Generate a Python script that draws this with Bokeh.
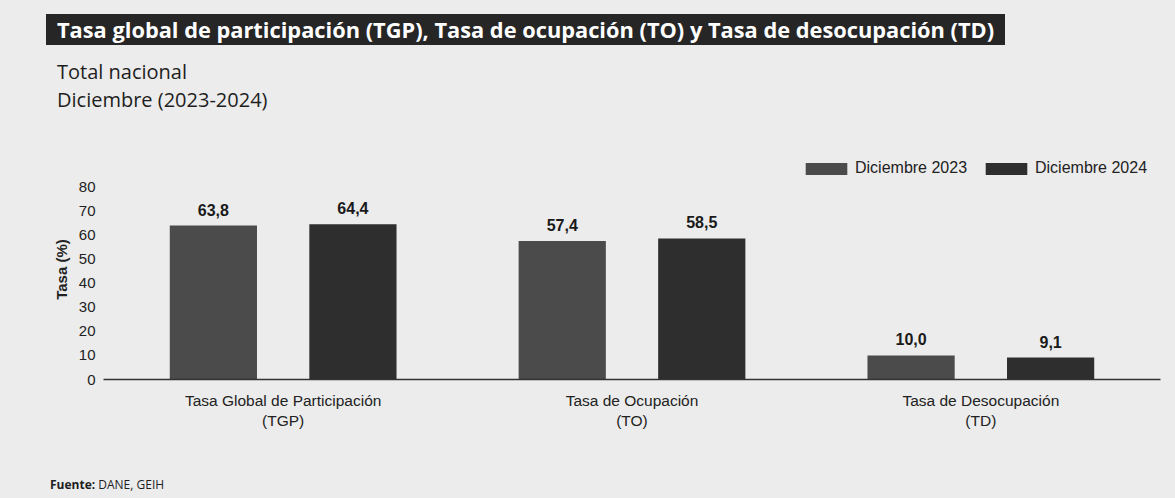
from bokeh.plotting import figure
from bokeh.models import (FactorRange, Range1d, Legend, LegendItem, FixedTicker,
                          ColumnDataSource, Div)
from bokeh.layouts import column
from bokeh.transform import dodge
from bokeh.embed import file_html
from bokeh.resources import INLINE
from bokeh.core.properties import value

# ---- data ----
categories = ["Tasa Global de Participación\n(TGP)",
              "Tasa de Ocupación\n(TO)",
              "Tasa de Desocupación\n(TD)"]
series_names = ["Diciembre 2023", "Diciembre 2024"]
dic_2023 = [63.8, 57.4, 10.0]
dic_2024 = [64.4, 58.5, 9.1]
y_ticks = [0, 10, 20, 30, 40, 50, 60, 70, 80]

title_text = "Tasa global de participación (TGP), Tasa de ocupación (TO) y Tasa de desocupación (TD)"
subtitle_1 = "Total nacional"
subtitle_2 = "Diciembre (2023-2024)"
y_label = "Tasa (%)"
source_bold = "Fuente:"
source_text = "DANE, GEIH"

# ---- styles ----
BG = "#ececec"
C2023 = "#4b4b4b"
C2024 = "#2e2e2e"
DARK = "#262626"
TXT = "#1e1e1e"
ARIAL = "Liberation Sans"
W = 1175

def fmt(v):
    return f"{v:.1f}".replace(".", ",")

src = ColumnDataSource(dict(
    cat=categories,
    v2023=dic_2023,
    v2024=dic_2024,
    t2023=[fmt(v) for v in dic_2023],
    t2024=[fmt(v) for v in dic_2024],
))

# ---- header ----
header_html = f"""
<div style="position:relative;width:{W}px;height:140px;background:{BG};font-family:'Open Sans';">
  <div style="position:absolute;left:46px;top:14px;width:959px;height:31px;padding-left:11px;
              box-sizing:border-box;background:{DARK};color:#ffffff;font-weight:bold;
              font-size:21.8px;line-height:31px;white-space:nowrap;overflow:hidden;">{title_text}</div>
  <div style="position:absolute;left:57px;top:59px;font-size:20px;line-height:26px;color:{TXT};
              white-space:nowrap;">{subtitle_1}</div>
  <div style="position:absolute;left:57px;top:87px;font-size:20px;line-height:26px;color:{TXT};
              white-space:nowrap;">{subtitle_2}</div>
</div>
"""
header = Div(text=header_html, width=W, height=140, margin=0,
             styles={"background-color": BG})

# ---- chart ----
p = figure(width=W, height=336,
           x_range=FactorRange(*categories, range_padding=0.015, range_padding_units="absolute"),
           y_range=Range1d(0, 91.2),
           output_backend="svg", toolbar_location=None,
           min_border_left=103, min_border_right=15,
           min_border_top=19, min_border_bottom=97, margin=0)
p.styles = {"background-color": BG}
p.background_fill_color = BG
p.border_fill_color = BG
p.outline_line_color = None
p.xgrid.grid_line_color = None
p.ygrid.grid_line_color = None

r1 = p.vbar(x=dodge("cat", -0.2, range=p.x_range), top="v2023", width=0.25,
            source=src, fill_color=C2023, line_color=None)
r2 = p.vbar(x=dodge("cat", 0.2, range=p.x_range), top="v2024", width=0.25,
            source=src, fill_color=C2024, line_color=None)

for xo, ycol, tcol in [(-0.2, "v2023", "t2023"), (0.2, "v2024", "t2024")]:
    p.text(x=dodge("cat", xo, range=p.x_range), y=ycol, text=tcol, source=src,
           text_align="center", text_baseline="bottom", y_offset=-10,
           text_font=value(ARIAL), text_font_style="bold",
           text_font_size="16px", text_color="#1a1a1a")

# axes
p.yaxis.ticker = FixedTicker(ticks=y_ticks)
p.yaxis.axis_line_color = None
p.yaxis.major_tick_line_color = None
p.yaxis.minor_tick_line_color = None
p.yaxis.major_tick_out = 0
p.yaxis.major_tick_in = 0
p.yaxis.major_label_standoff = 8
p.yaxis.major_label_text_font = ARIAL
p.yaxis.major_label_text_font_size = "15px"
p.yaxis.major_label_text_color = "#222222"
p.yaxis.axis_label = y_label
p.yaxis.axis_label_text_font = ARIAL
p.yaxis.axis_label_text_font_style = "bold"
p.yaxis.axis_label_text_font_size = "15px"
p.yaxis.axis_label_text_color = "#222222"
p.yaxis.axis_label_standoff = 6

p.xaxis.axis_line_color = "#333333"
p.xaxis.axis_line_width = 1.5
p.xaxis.major_tick_line_color = None
p.xaxis.minor_tick_line_color = None
p.xaxis.major_label_standoff = 6
p.xaxis.major_label_text_font = ARIAL
p.xaxis.major_label_text_font_size = "15.5px"
p.xaxis.major_label_text_color = "#222222"

# legend (inside the frame, top right)
legend = Legend(items=[LegendItem(label=series_names[0], renderers=[r1]),
                       LegendItem(label=series_names[1], renderers=[r2])],
                orientation="horizontal", location="top_right",
                glyph_width=52, glyph_height=15, label_standoff=3, spacing=-6,
                padding=0, margin=0, border_line_color=None,
                background_fill_alpha=0,
                label_text_font=ARIAL, label_text_font_size="16px",
                label_text_color="#222222", label_height=16, label_width=125)
p.add_layout(legend, "center")

# ---- footer ----
footer_html = f"""
<div style="position:relative;width:{W}px;height:22px;background:{BG};font-family:'Open Sans';">
  <div style="position:absolute;left:50px;top:0px;font-size:12px;line-height:18px;color:{TXT};
              white-space:nowrap;"><b>{source_bold}</b> {source_text}</div>
</div>
"""
footer = Div(text=footer_html, width=W, height=22, margin=0,
             styles={"background-color": BG})

layout = column(header, p, footer, spacing=0, margin=0,
                styles={"background-color": BG})
html = file_html(layout, INLINE)
html = html.replace("<body>", f'<body style="background:{BG};">', 1)
open("out.html", "w").write(html)
